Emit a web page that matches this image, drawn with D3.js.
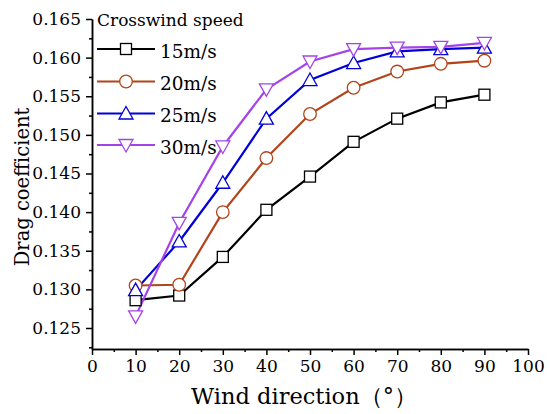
<!DOCTYPE html>
<html>
<head>
<meta charset="utf-8">
<script src="https://cdn.jsdelivr.net/npm/d3@7"></script>
<style>
  body { margin: 0; background: #fff; overflow: hidden; }
  svg { display: block; }
</style>
</head>
<body>
<script>
// Chart data
const directions = [10, 20, 30, 40, 50, 60, 70, 80, 90];
const speeds = ['15m/s', '20m/s', '25m/s', '30m/s'];
const drag15 = [0.1286, 0.1292, 0.1342, 0.1403, 0.1446, 0.1491, 0.1521, 0.1542, 0.1552];
const drag20 = [0.1305, 0.1306, 0.1400, 0.1470, 0.1527, 0.1561, 0.1582, 0.1592, 0.1596];
const drag25 = [0.1299, 0.1362, 0.1438, 0.1521, 0.1571, 0.1593, 0.1608, 0.1611, 0.1613];
const drag30 = [0.1265, 0.1386, 0.1485, 0.1559, 0.1595, 0.1611, 0.1613, 0.1614, 0.1619];
const xTicks = [0, 10, 20, 30, 40, 50, 60, 70, 80, 90, 100];
const yTicks = [0.125, 0.130, 0.135, 0.140, 0.145, 0.150, 0.155, 0.160, 0.165];

const width = 550;
const height = 414;
const margin = { top: 19, right: 22, bottom: 65, left: 92 };
const innerWidth = width - margin.left - margin.right;
const innerHeight = height - margin.top - margin.bottom;
const serif = 'DejaVu Serif';

const colors = ['#000000', '#b2441a', '#0000d8', '#a444e8'];
const symbols = ['square', 'circle', 'triangle', 'down'];
const seriesValues = [drag15, drag20, drag25, drag30];

const series = speeds.map((name, i) => ({
    name: name,
    color: colors[i],
    symbol: symbols[i],
    values: directions.map((d, j) => ({ x: d, y: seriesValues[i][j] }))
}));

const svg = d3.select('body')
    .append('svg')
    .attr('width', width)
    .attr('height', height)
    .attr('font-family', serif);

const g = svg.append('g')
    .attr('transform', `translate(${margin.left}, ${margin.top})`);

const xScale = d3.scaleLinear()
    .domain([0, 100])
    .range([0, innerWidth]);

const yScale = d3.scaleLinear()
    .domain([0.12228, 0.165])
    .range([innerHeight, 0]);

// Axes with major + minor ticks
function styleAxis(sel) {
    sel.attr('font-family', serif).attr('font-size', 17);
    sel.select('.domain').attr('stroke', '#000').attr('stroke-width', 1.5);
    sel.selectAll('.tick line').attr('stroke', '#000').attr('stroke-width', 1.5);
    sel.selectAll('.tick text').attr('fill', '#000');
}

const minorX = d3.range(5, 100, 10);
g.append('g')
    .attr('transform', `translate(0, ${innerHeight})`)
    .call(d3.axisBottom(xScale).tickValues(minorX).tickSize(3).tickFormat('').tickSizeOuter(0))
    .call(styleAxis)
    .call(a => a.selectAll('.tick text').remove());
g.append('g')
    .attr('transform', `translate(0, ${innerHeight})`)
    .call(d3.axisBottom(xScale).tickValues(xTicks).tickSize(6).tickPadding(5).tickSizeOuter(0))
    .call(styleAxis);

const minorY = yTicks.slice(0, -1).map(t => t + 0.0025).concat([0.1225]);
g.append('g')
    .call(d3.axisLeft(yScale).tickValues(minorY).tickSize(3).tickFormat('').tickSizeOuter(0))
    .call(styleAxis)
    .call(a => a.selectAll('.tick text').remove());
g.append('g')
    .call(d3.axisLeft(yScale).tickValues(yTicks).tickSize(6).tickPadding(5)
        .tickFormat(d3.format('.3f')).tickSizeOuter(0))
    .call(styleAxis);

// Axis titles
g.append('text')
    .attr('x', 212)
    .attr('y', innerHeight + 55)
    .attr('text-anchor', 'middle')
    .attr('font-size', 22.5)
    .text('Wind direction（°）');

g.append('text')
    .attr('transform', 'rotate(-90)')
    .attr('x', -168)
    .attr('y', -63)
    .attr('text-anchor', 'middle')
    .attr('font-size', 19.5)
    .text('Drag coefficient');

// Marker drawing
function drawMarker(sel, symbol, color, size) {
    const s = size;
    if (symbol === 'square') {
        sel.append('rect')
            .attr('x', -s).attr('y', -s)
            .attr('width', 2 * s).attr('height', 2 * s)
            .attr('fill', '#fff').attr('stroke', color).attr('stroke-width', 1.3);
    } else if (symbol === 'circle') {
        sel.append('circle')
            .attr('r', s + 0.8)
            .attr('fill', '#fff').attr('stroke', color).attr('stroke-width', 1.3);
    } else if (symbol === 'triangle') {
        sel.append('path')
            .attr('d', `M0,${-s - 1.5}L${s + 1.5},${s}L${-s - 1.5},${s}Z`)
            .attr('fill', '#fff').attr('stroke', color).attr('stroke-width', 1.3);
    } else {
        sel.append('path')
            .attr('d', `M0,${s + 1.5}L${s + 1.5},${-s}L${-s - 1.5},${-s}Z`)
            .attr('fill', '#fff').attr('stroke', color).attr('stroke-width', 1.3);
    }
}

const line = d3.line()
    .x(d => xScale(d.x))
    .y(d => yScale(d.y));

series.forEach(s => {
    g.append('path')
        .datum(s.values)
        .attr('fill', 'none')
        .attr('stroke', s.color)
        .attr('stroke-width', 2.2)
        .attr('d', line);
});

series.forEach(s => {
    g.selectAll(null)
        .data(s.values)
        .enter()
        .append('g')
        .attr('transform', d => `translate(${xScale(d.x)}, ${yScale(d.y)})`)
        .each(function () { drawMarker(d3.select(this), s.symbol, s.color, 5.5); });
});

// Legend
const legend = svg.append('g').attr('transform', 'translate(97, 0)');
legend.append('text')
    .attr('x', 0)
    .attr('y', 26)
    .attr('font-size', 17)
    .text('Crosswind speed');

const legendY = [49, 81.5, 113.5, 145];
series.forEach((s, i) => {
    const row = legend.append('g').attr('transform', `translate(0, ${legendY[i]})`);
    row.append('line')
        .attr('x1', 0).attr('x2', 58)
        .attr('stroke', s.color).attr('stroke-width', 2.2);
    const m = row.append('g').attr('transform', 'translate(29, 0)');
    drawMarker(m, s.symbol, s.color, 5.5);
    row.append('text')
        .attr('x', 63)
        .attr('y', 8.5)
        .attr('font-size', 18.5)
        .text(s.name);
});
</script>
</body>
</html>
